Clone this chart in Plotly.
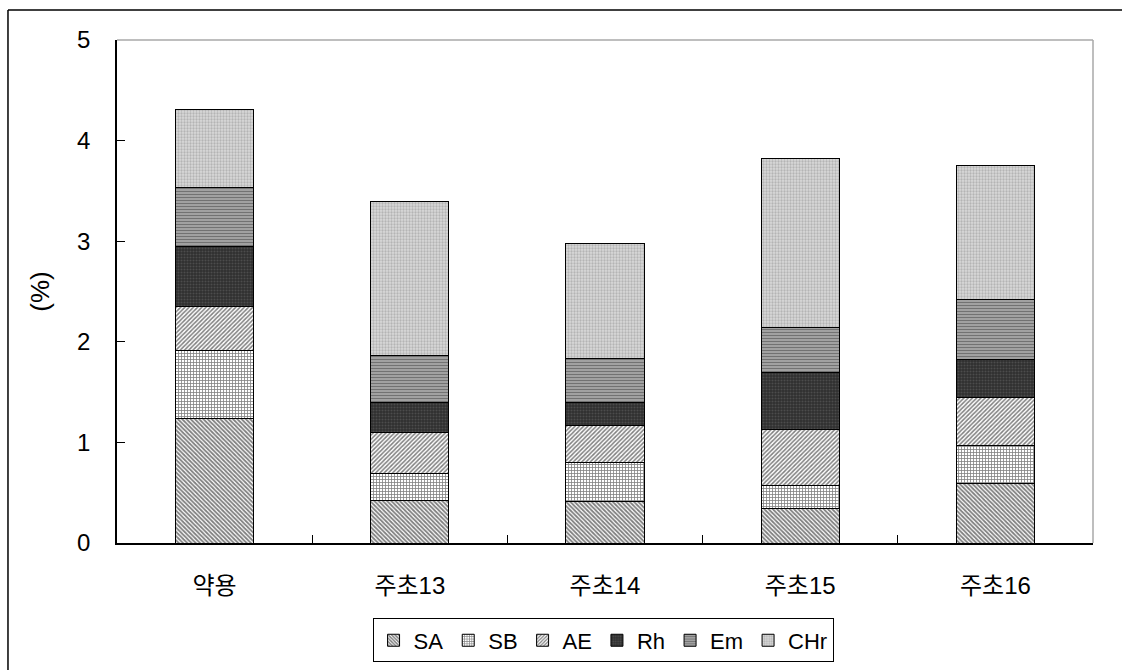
import plotly.graph_objects as go

# Categories and stacked component contents (%)
categories = ["약용", "주초13", "주초14", "주초15", "주초16"]
sa = [1.24, 0.42, 0.41, 0.34, 0.59]
sb = [0.67, 0.27, 0.39, 0.23, 0.38]
ae = [0.44, 0.41, 0.37, 0.56, 0.48]
rh = [0.60, 0.30, 0.23, 0.56, 0.37]
em = [0.58, 0.46, 0.43, 0.45, 0.60]
chr_ = [0.78, 1.53, 1.15, 1.68, 1.33]

series_names = ["SA", "SB", "AE", "Rh", "Em", "CHr"]
series_values = [sa, sb, ae, rh, em, chr_]

# Monochrome hatch fills for each component
patterns = [
    dict(shape="\\", fgcolor="#000000", bgcolor="#ffffff", size=3, solidity=0.6),
    dict(shape="+", fgcolor="#000000", bgcolor="#ffffff", size=3, solidity=0.45),
    dict(shape="/", fgcolor="#000000", bgcolor="#ffffff", size=3, solidity=0.5),
    dict(shape=".", fgcolor="#6a6a6a", bgcolor="#2e2e2e", size=3, solidity=0.4),
    dict(shape="-", fgcolor="#333333", bgcolor="#b0b0b0", size=3, solidity=0.5),
    dict(shape=".", fgcolor="#8f8f8f", bgcolor="#d8d8d8", size=3, solidity=0.45),
]

FONT = "Arial, 'Liberation Sans', 'Noto Sans CJK KR', sans-serif"

fig = go.Figure()
for name, vals, pat in zip(series_names, series_values, patterns):
    fig.add_trace(go.Bar(
        name=name,
        x=categories,
        y=vals,
        width=0.4,
        marker=dict(color=pat["bgcolor"], pattern=pat,
                    line=dict(color="#000000", width=1)),
    ))

fig.update_layout(
    width=1122,
    height=670,
    barmode="stack",
    plot_bgcolor="#ffffff",
    paper_bgcolor="#ffffff",
    margin=dict(l=117, r=29, t=40, b=127, autoexpand=False),
    font=dict(family=FONT, size=24, color="#000000"),
    showlegend=True,
    legend=dict(
        orientation="h",
        x=0.498, xanchor="center",
        y=-0.15, yanchor="top",
        bordercolor="#000000", borderwidth=1,
        bgcolor="#ffffff",
        font=dict(family=FONT, size=22),
        itemwidth=30,
        tracegroupgap=0,
        traceorder="normal",
    ),
    xaxis=dict(
        showline=True, linecolor="#000000", linewidth=1.5,
        ticks="inside", ticklen=8, tickcolor="#000000",
        tickson="boundaries",
        showgrid=False,
        ticklabelstandoff=20,
        tickfont=dict(family=FONT, size=24),
    ),
    yaxis=dict(
        range=[0, 5],
        tickvals=[0, 1, 2, 3, 4, 5],
        showline=True, linecolor="#000000", linewidth=1.5,
        ticks="inside", ticklen=8, tickcolor="#000000",
        showgrid=False, zeroline=False,
        ticklabelstandoff=20,
        tickfont=dict(family=FONT, size=24),
        title=dict(text="(%)", font=dict(family=FONT, size=26), standoff=20),
    ),
    shapes=[
        # plot frame (top and right)
        dict(type="line", xref="paper", yref="paper", x0=0, x1=1, y0=1, y1=1,
             line=dict(color="#a8a8a8", width=1.5)),
        dict(type="line", xref="paper", yref="paper", x0=1, x1=1, y0=0, y1=1,
             line=dict(color="#a8a8a8", width=1.5)),
        # chart border (left and top)
        dict(type="line", xref="paper", yref="paper", x0=-0.1117, x1=-0.1117,
             y0=-0.3, y1=1.0596, line=dict(color="#000000", width=1.5)),
        dict(type="line", xref="paper", yref="paper", x0=-0.1117, x1=1.1,
             y0=1.0596, y1=1.0596, line=dict(color="#000000", width=1.5)),
    ],
)

fig.write_html("out.html")
